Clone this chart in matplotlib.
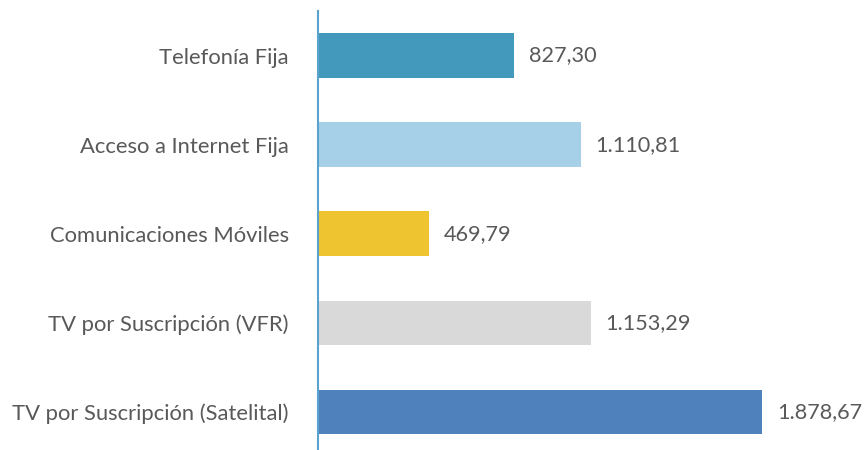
import matplotlib
matplotlib.use("Agg")
import matplotlib.pyplot as plt

categories = ["Telefonía Fija", "Acceso a Internet Fija", "Comunicaciones Móviles",
              "TV por Suscripción (VFR)", "TV por Suscripción (Satelital)"]
values = [827.30, 1110.81, 469.79, 1153.29, 1878.67]
value_labels = ["827,30", "1.110,81", "469,79", "1.153,29", "1.878,67"]
colors = ["#4399BB", "#A5D0E8", "#EEC530", "#D9D9D9", "#4F81BD"]

plt.rcParams['font.family'] = ['Lato', 'DejaVu Sans']
W, H = 865, 450
fig = plt.figure(figsize=(W / 100, H / 100), dpi=100)
ax_left = 318 / W
ax_top = 1 - 11 / H
ax_height = 445.5 / H
ax = fig.add_axes([ax_left, ax_top - ax_height, 1 - ax_left, ax_height])

y = list(range(len(categories)))
ax.barh(y, values, height=0.5, color=colors)
ax.set_ylim(len(categories) - 0.5, -0.5)
scale = 444 / 1878.67
ax.set_xlim(0, (W - 318) / scale)

for yi, v, lab in zip(y, values, value_labels):
    ax.text(v + 15 / scale, yi, lab, va='center', ha='left', fontsize=15.6, color='#595959')

ax.set_yticks(y)
ax.set_yticklabels(categories, fontsize=15.8, color='#595959')
ax.tick_params(axis='y', length=0, pad=21)
ax.set_xticks([])
for s in ['top', 'right', 'bottom']:
    ax.spines[s].set_visible(False)
ax.spines['left'].set_color('#5BA3CF')
ax.spines['left'].set_linewidth(1.5)

fig.savefig("out.png", dpi=100)
